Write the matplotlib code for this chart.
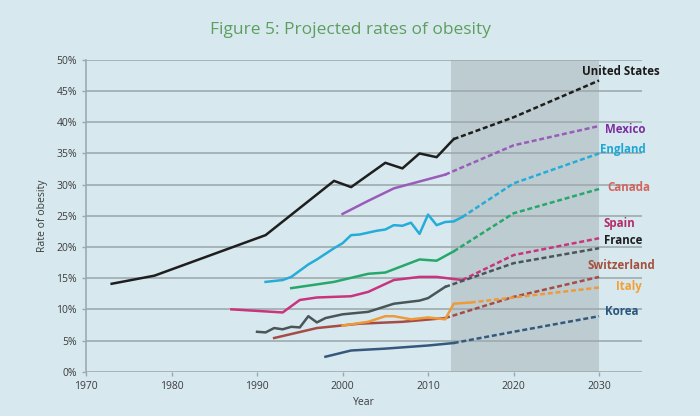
import matplotlib
matplotlib.use("Agg")
import matplotlib.pyplot as plt

plt.rcParams['font.family'] = ['Open Sans', 'DejaVu Sans']

# ---------------- data ----------------
us_years = [1973, 1978, 1991, 1999, 2001, 2005, 2007, 2009, 2011, 2013]
us_vals = [14.1, 15.4, 21.9, 30.6, 29.6, 33.5, 32.6, 35.0, 34.4, 37.3]
us_proj_years = [2013, 2020, 2030]
us_proj_vals = [37.3, 40.8, 46.7]

mex_years = [2000, 2003, 2006, 2012]
mex_vals = [25.3, 27.4, 29.4, 31.6]
mex_proj_years = [2012, 2020, 2030]
mex_proj_vals = [31.6, 36.3, 39.4]

eng_years = [1991, 1993, 1994, 1995, 1996, 1997, 1998, 1999, 2000, 2001, 2002, 2003,
             2004, 2005, 2006, 2007, 2008, 2009, 2010, 2011, 2012, 2013, 2014]
eng_vals = [14.4, 14.7, 15.2, 16.2, 17.2, 18.0, 18.9, 19.8, 20.6, 21.9, 22.0, 22.3,
            22.6, 22.8, 23.5, 23.4, 23.9, 22.1, 25.2, 23.5, 24.0, 24.1, 24.8]
eng_proj_years = [2014, 2020, 2030]
eng_proj_vals = [24.8, 30.2, 35.0]

can_years = [1994, 1999, 2003, 2005, 2009, 2011, 2013]
can_vals = [13.4, 14.4, 15.7, 15.9, 18.0, 17.8, 19.3]
can_proj_years = [2013, 2020, 2030]
can_proj_vals = [19.3, 25.4, 29.3]

esp_years = [1987, 1993, 1995, 1997, 2001, 2003, 2006, 2009, 2011, 2014]
esp_vals = [10.0, 9.5, 11.5, 11.9, 12.1, 12.8, 14.7, 15.2, 15.2, 14.7]
esp_proj_years = [2014, 2020, 2030]
esp_proj_vals = [14.7, 18.7, 21.4]

fra_years = [1990, 1991, 1992, 1993, 1994, 1995, 1996, 1997, 1998, 2000, 2003, 2006,
             2009, 2010, 2012]
fra_vals = [6.4, 6.3, 7.0, 6.8, 7.2, 7.1, 8.9, 7.9, 8.6, 9.2, 9.6, 10.9,
            11.4, 11.8, 13.6]
fra_proj_years = [2012, 2020, 2030]
fra_proj_vals = [13.6, 17.4, 19.8]

swi_years = [1992, 1997, 2002, 2007, 2012]
swi_vals = [5.4, 7.0, 7.7, 8.0, 8.6]
swi_proj_years = [2012, 2020, 2030]
swi_proj_vals = [8.6, 12.0, 15.2]

ita_years = [2000, 2003, 2005, 2006, 2008, 2010, 2012, 2013, 2015]
ita_vals = [7.4, 8.0, 8.9, 8.9, 8.4, 8.7, 8.4, 10.9, 11.1]
ita_proj_years = [2015, 2020, 2030]
ita_proj_vals = [11.1, 11.9, 13.5]

kor_years = [1998, 2001, 2005, 2008, 2010, 2013]
kor_vals = [2.4, 3.4, 3.7, 4.0, 4.2, 4.6]
kor_proj_years = [2013, 2020, 2030]
kor_proj_vals = [4.6, 6.4, 8.9]

labels = ["United States", "Mexico", "England", "Canada", "Spain", "France",
          "Switzerland", "Italy", "Korea"]
label_x = [2032.5, 2033.1, 2032.8, 2033.5, 2032.4, 2032.8, 2032.6, 2033.5, 2032.6]
label_y = [48.1, 38.9, 35.7, 29.6, 23.8, 21.0, 17.1, 13.6, 9.7]

projection_start = 2012.7
projection_end = 2030

xticks = [1970, 1980, 1990, 2000, 2010, 2020, 2030]
yticks = [0, 5, 10, 15, 20, 25, 30, 35, 40, 45, 50]

# ---------------- style ----------------
bg = "#D7E9EF"
shade = "#BDCCD1"
grid_c = "#9DA8AB"

series = [
    (us_years, us_vals, us_proj_years, us_proj_vals, "#1E1E1E", "#1A1A1A"),
    (mex_years, mex_vals, mex_proj_years, mex_proj_vals, "#9A5CBA", "#7E2EA0"),
    (eng_years, eng_vals, eng_proj_years, eng_proj_vals, "#25ACD8", "#1EA8D6"),
    (can_years, can_vals, can_proj_years, can_proj_vals, "#26A86A", "#D2655E"),
    (esp_years, esp_vals, esp_proj_years, esp_proj_vals, "#C8347E", "#B22C6C"),
    (fra_years, fra_vals, fra_proj_years, fra_proj_vals, "#4A5558", "#1E1E1E"),
    (swi_years, swi_vals, swi_proj_years, swi_proj_vals, "#A44C45", "#A5503D"),
    (ita_years, ita_vals, ita_proj_years, ita_proj_vals, "#EE9A3A", "#F2A035"),
    (kor_years, kor_vals, kor_proj_years, kor_proj_vals, "#35597C", "#2A557F"),
]

fig = plt.figure(figsize=(7.0, 4.16), dpi=100)
fig.patch.set_facecolor(bg)
ax = fig.add_axes([0.1229, 0.1065, 0.794, 0.7495])
ax.set_facecolor(bg)

ax.set_xlim(1970, 2035)
ax.set_ylim(0, 50)

ax.axvspan(projection_start, projection_end, color=shade, zorder=0.5, lw=0)

for yv in yticks:
    ax.axhline(yv, color=grid_c, lw=1.15, zorder=1)

for (yrs, vals, pyrs, pvals, lc, tc), lab, lx, ly in zip(series, labels, label_x, label_y):
    ax.plot(yrs, vals, color=lc, lw=1.8, zorder=3, solid_joinstyle='round')
    ax.plot(pyrs, pvals, color=lc, lw=1.8, ls=(0, (2.0, 1.1)), zorder=3)
    ax.text(lx, ly, lab, color=tc, fontsize=8.3, fontweight='bold',
            ha='center', va='center', zorder=4)

for s in ['top', 'right', 'bottom']:
    ax.spines[s].set_visible(False)
ax.spines['left'].set_color(grid_c)
ax.spines['left'].set_linewidth(1.15)

ax.set_xticks(xticks)
ax.set_xticklabels([str(t) for t in xticks])
ax.set_yticks(yticks)
ax.set_yticklabels([f"{t}%" for t in yticks])
ax.tick_params(axis='both', colors=grid_c, labelcolor="#3C3C3C", labelsize=7.5,
               length=3, width=1)

ax.set_xlabel("Year", fontsize=7.5, color="#3C3C3C", labelpad=4)
ax.set_ylabel("Rate of obesity", fontsize=7.5, color="#3C3C3C", labelpad=6)

fig.text(0.5, 0.928, "Figure 5: Projected rates of obesity", ha='center', va='center',
         fontsize=12.5, color="#5E9E5E")

fig.savefig("out.png", dpi=100, facecolor=bg)
